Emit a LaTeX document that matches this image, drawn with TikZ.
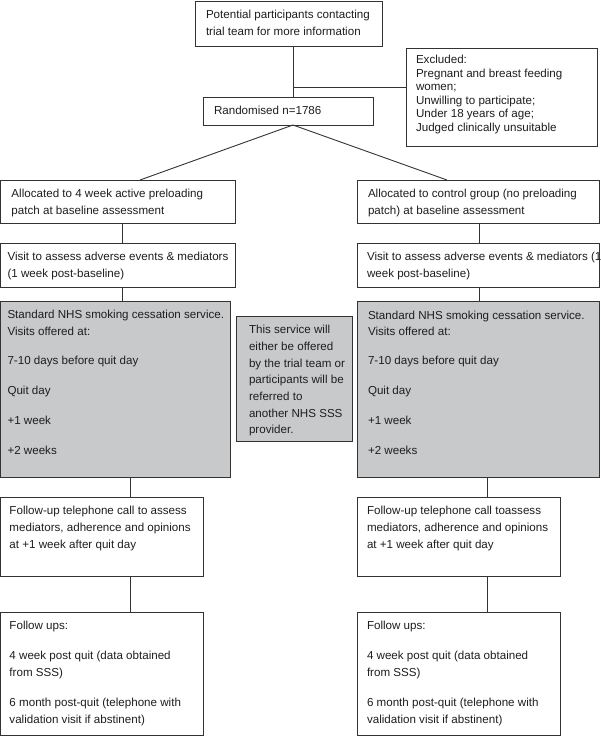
\documentclass[tikz,border=0pt]{standalone}
\usepackage{fontspec}
\setmainfont{Liberation Sans}
\definecolor{linec}{HTML}{333333}
\definecolor{grayf}{HTML}{C8C9CB}
\definecolor{textc}{HTML}{1E1E1E}
% width, height, left pad, baselineskip, lines
\newcommand{\bxt}[5]{\begin{minipage}[c][#2pt][t]{#1pt}\fontsize{11.6}{#4}\selectfont\vspace*{6pt}\hspace*{#3pt}\begin{tabular}[t]{@{}l@{}}#5\end{tabular}\end{minipage}}
\begin{document}
\begin{tikzpicture}[x=1pt,y=-1pt,
  box/.style={draw=linec, line width=0.9pt, anchor=north west, inner sep=0pt, outer sep=0pt, text=textc, fill=white},
  greybox/.style={box, fill=grayf},
  conn/.style={draw=linec, line width=0.9pt}]
\fill[white] (0,0) rectangle (600,736);
\useasboundingbox (0,0) rectangle (600,736);

% nodes
\node[box] (top) at (195,1) {\bxt{187}{45}{11}{16.7}{Potential participants contacting\\trial team for more information}};
\node[box] (excl) at (406,48) {\bxt{191}{98}{10}{13.6}{Excluded:\\Pregnant and breast feeding\\women;\\Unwilling to participate;\\Under 18 years of age;\\Judged clinically unsuitable}};
\node[box] (rand) at (203,97) {\bxt{170}{28}{11}{16.7}{Randomised n=1786}};

\node[box] (L1) at (0.5,180) {\bxt{234.5}{43}{11}{16.7}{Allocated to 4 week active preloading\\patch at baseline assessment}};
\node[box] (R1) at (357,180) {\bxt{242}{43}{11}{16.7}{Allocated to control group (no preloading\\patch) at baseline assessment}};

\node[box] (L2) at (0.5,243) {\bxt{234.5}{44}{7}{16.7}{Visit to assess adverse events \& mediators\\(1 week post-baseline)}};
\node[box] (R2) at (357,243) {\bxt{242}{44}{10}{16.7}{Visit to assess adverse events \& mediators (1\\week post-baseline)}};

\node[greybox] (LG) at (0.5,301) {\bxt{229.5}{176}{7}{16.7}{Standard NHS smoking cessation service.\\Visits offered at:\\[12.3pt]7-10 days before quit day\\[13.3pt]Quit day\\[13.3pt]+1 week\\[13.3pt]+2 weeks}};
\node[greybox] (MG) at (236,316) {\bxt{116}{125}{13}{16.7}{This service will\\either be offered\\by the trial team or\\participants will be\\referred to\\another NHS SSS\\provider.}};
\node[greybox] (RG) at (357,301.5) {\bxt{242}{175.5}{11}{16.7}{Standard NHS smoking cessation service.\\Visits offered at:\\[12.3pt]7-10 days before quit day\\[13.3pt]Quit day\\[13.3pt]+1 week\\[13.3pt]+2 weeks}};

\node[box] (LF) at (0.5,497) {\bxt{202.5}{79}{9}{16.7}{Follow-up telephone call to assess\\mediators, adherence and opinions\\at +1 week after quit day}};
\node[box] (RF) at (357,497) {\bxt{203}{79}{10}{16.7}{Follow-up telephone call toassess\\mediators, adherence and opinions\\at +1 week after quit day}};

\node[box] (LU) at (0.5,612) {\bxt{202.5}{123}{9}{16.7}{Follow ups:\\[13.3pt]4 week post quit (data obtained\\from SSS)\\[13.3pt]6 month post-quit (telephone with\\validation visit if abstinent)}};
\node[box] (RU) at (357,612) {\bxt{203}{123}{10}{16.7}{Follow ups:\\[13.3pt]4 week post quit (data obtained\\from SSS)\\[13.3pt]6 month post-quit (telephone with\\validation visit if abstinent)}};

% reference coordinates for connector positions
\coordinate (jx) at (293,87);
\coordinate (dl) at (140,0);
\coordinate (dr) at (447,0);
\coordinate (xl) at (122,0);
\coordinate (xr) at (479,0);
\coordinate (xl2) at (130,0);
\coordinate (xr2) at (487,0);

% connectors
\draw[conn] (top.south -| jx) -- (rand.north -| jx);
\draw[conn] (jx) -- (jx -| excl.west);
\draw[conn] (rand.south -| jx) -- (L1.north -| dl);
\draw[conn] (rand.south -| jx) -- (R1.north -| dr);
\draw[conn] (L1.south -| xl) -- (L2.north -| xl);
\draw[conn] (R1.south -| xr) -- (R2.north -| xr);
\draw[conn] (L2.south -| xl) -- (LG.north -| xl);
\draw[conn] (R2.south -| xr) -- (RG.north -| xr);
\draw[conn] (LG.south -| xl2) -- (LF.north -| xl2);
\draw[conn] (RG.south -| xr2) -- (RF.north -| xr2);
\draw[conn] (LF.south -| xl2) -- (LU.north -| xl2);
\draw[conn] (RF.south -| xr2) -- (RU.north -| xr2);
\end{tikzpicture}
\end{document}
